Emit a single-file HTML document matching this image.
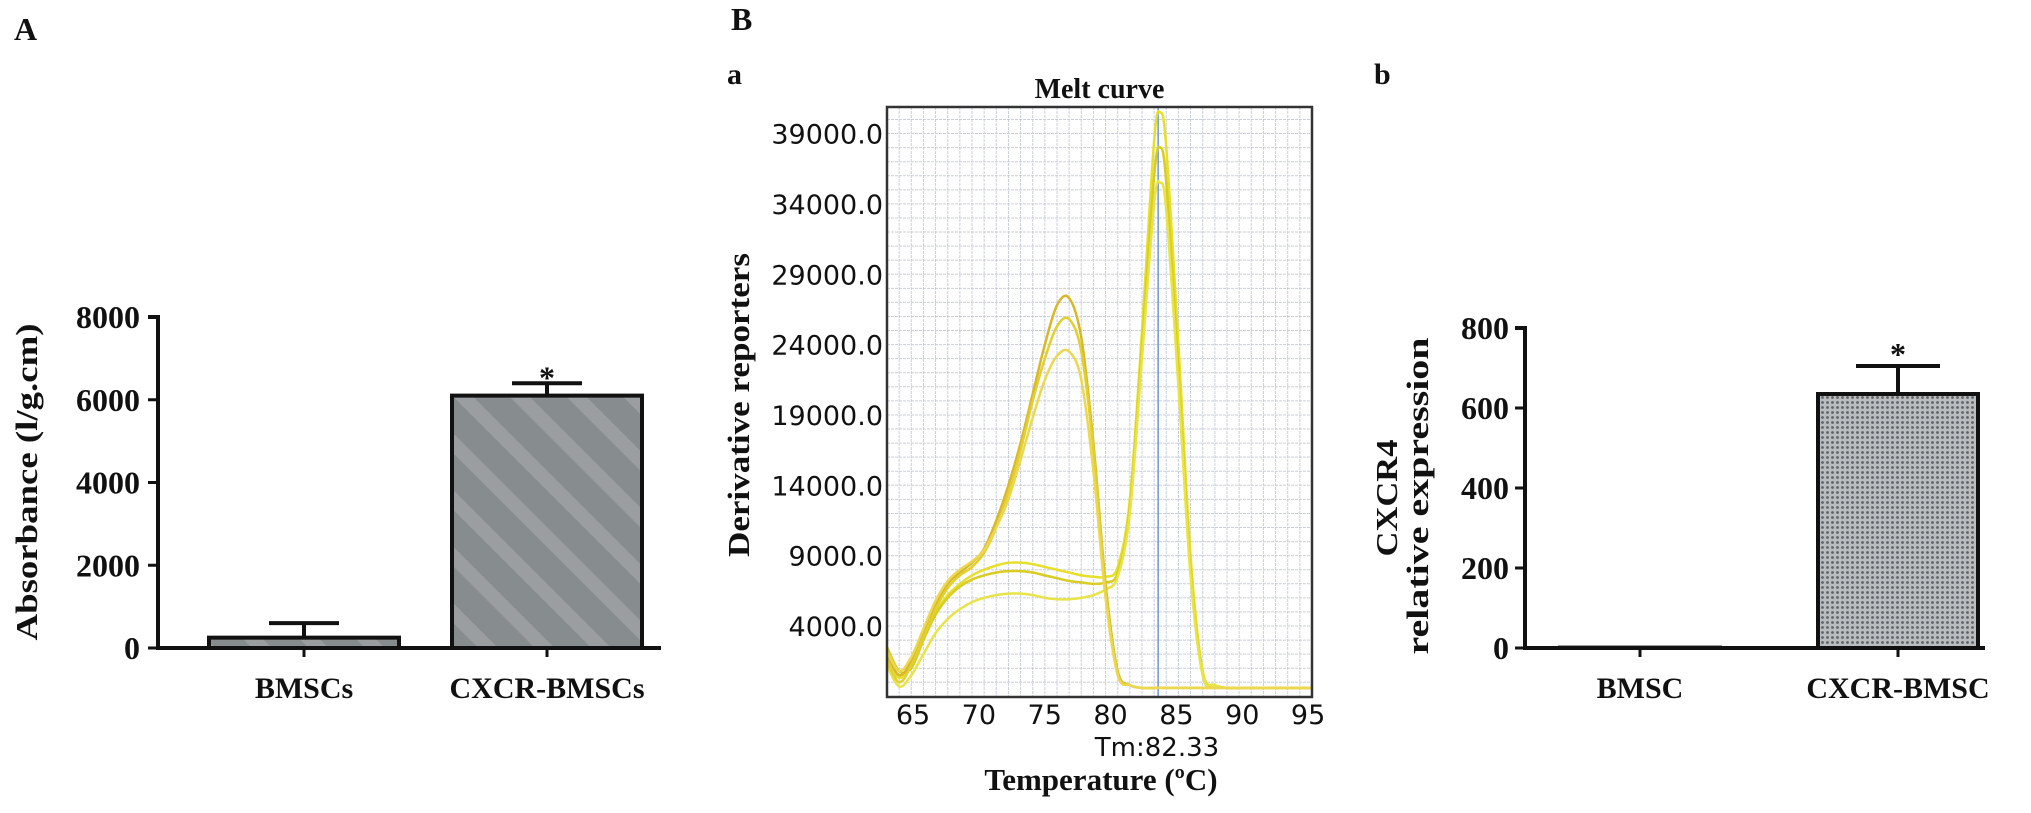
<!DOCTYPE html>
<html><head><meta charset="utf-8"><style>
html,body{margin:0;padding:0;background:#fff;}
svg{display:block;}
.b{font-family:"Liberation Serif",serif;font-weight:bold;fill:#111;}
.s{font-family:"DejaVu Sans","Liberation Sans",sans-serif;fill:#111;}
</style></head><body>
<svg id="fig" width="2031" height="813" viewBox="0 0 2031 813" xmlns="http://www.w3.org/2000/svg">
<defs>
<pattern id="stripe" patternUnits="userSpaceOnUse" width="40" height="40" patternTransform="rotate(-45)">
<rect width="40" height="40" fill="#878c8f"/><rect width="14" height="40" fill="#9a9ea1"/>
</pattern>
<pattern id="dots" patternUnits="userSpaceOnUse" width="5" height="5">
<rect width="5" height="5" fill="#b9bdbf"/><circle cx="2.5" cy="2.5" r="1.4" fill="#5d6366"/>
</pattern>
</defs>
<g id="pA"></g>
<g id="pMelt"></g>
<g id="pB"></g>
</svg>
<script>
// Panel A data
const aCats = ["BMSCs", "CXCR-BMSCs"];
const aVals = [250, 6100];
const aErr = [350, 300];
const aTicks = [0, 2000, 4000, 6000, 8000];
// Melt curve data
const meltTemps = [60,61,62,63,64,65,66,67,68,69,70,71,72,73,74,75,76,77,78,79,80,81,82,82.5,83,84,85,86,87,88,89,90,91,92,93,94,95];
const meltG2a = [1800,300,1500,3500,5000,6200,7000,7600,8000,8300,8500,8500,8400,8200,8000,7800,7600,7500,7500,8200,13000,25000,38500,40500,38000,24000,9000,800,-200,-400,-400,-400,-400,-400,-400,-400,-400];
const meltG2b = [2500,800,1000,3000,4800,6000,6800,7300,7600,7800,7900,7900,7800,7600,7400,7200,7100,7000,7100,7800,12500,24000,36000,38000,35500,22000,8000,500,-200,-400,-400,-400,-400,-400,-400,-400,-400];
const meltG2c = [1200,-300,500,2000,3500,4500,5200,5700,6000,6200,6300,6300,6200,6000,5900,5900,6000,6200,6600,7500,12000,23000,34000,35500,33500,21000,7500,500,-200,-400,-400,-400,-400,-400,-400,-400,-400];
const meltG1a = [2000,500,1500,3500,5500,7000,7800,8500,9500,11500,14000,17000,20500,24000,26800,27300,24500,17000,7000,800,-200,-400,-400,-400,-400,-400,-400,-400,-400,-400,-400,-400,-400,-400,-400,-400,-400];
const meltG1b = [1500,0,1200,3200,5200,6700,7600,8200,9200,11000,13500,16500,20000,23000,25300,25800,23500,16500,6500,600,-200,-400,-400,-400,-400,-400,-400,-400,-400,-400,-400,-400,-400,-400,-400,-400,-400];
const meltG1c = [2200,800,1800,3800,5800,7200,8000,8600,9400,11000,13000,15800,18800,21500,23200,23500,21500,15000,6000,500,-200,-400,-400,-400,-400,-400,-400,-400,-400,-400,-400,-400,-400,-400,-400,-400,-400];
const meltSeries = [meltG2a, meltG2b, meltG2c, meltG1a, meltG1b, meltG1c];
const meltColors = ["#e6e02a","#d9cc22","#e8e448","#d8b82a","#e2d030","#ecd850"];
const meltYTicks = [4000, 9000, 14000, 19000, 24000, 29000, 34000, 39000];
const meltXTicks = [65, 70, 75, 80, 85, 90, 95];
const meltTm = 82.33;
// Panel b data
const bCats = ["BMSC", "CXCR-BMSC"];
const bVals = [1, 635];
const bErr = [0, 70];
const bTicks = [0, 200, 400, 600, 800];

const NS = "http://www.w3.org/2000/svg";
function mk(parent, tag, attrs, text) {
  const e = document.createElementNS(NS, tag);
  for (const k in attrs) e.setAttribute(k, attrs[k]);
  if (text !== undefined) e.textContent = text;
  parent.appendChild(e);
  return e;
}

// ---------- Panel A ----------
(function(){
  const g = document.getElementById("pA");
  const ax = 158, y0 = 648, yTop = 317, xEnd = 661;
  const y = v => y0 - v * (y0 - yTop) / 8000;
  const centers = [304, 547], bw = 190;
  let t = mk(g, "text", {x: 14, y: 40, class: "b", "font-size": 32}, "A");
  
  
  aCats.forEach((c, i) => {
    const top = y(aVals[i]);
    const r = mk(g, "rect", {x: centers[i]-bw/2, y: top, width: bw, height: y0-top, fill: "url(#stripe)", stroke: "#111", "stroke-width": 4});
    
    
    const ye = y(aVals[i] + aErr[i]);
    const e = mk(g, "path", {d: `M${centers[i]} ${top} V${ye} M${centers[i]-35} ${ye} H${centers[i]+35}`, stroke: "#111", "stroke-width": 4, fill: "none"});
    
    
    const l = mk(g, "text", {x: centers[i], y: 698, class: "b", "font-size": 30, "text-anchor": "middle"}, c);
    
    
    mk(g, "line", {x1: centers[i], x2: centers[i], y1: y0, y2: y0+9, stroke: "#111", "stroke-width": 3});
  });
  const st = mk(g, "text", {x: centers[1], y: y(6800)+22, class: "b", "font-size": 32, "text-anchor": "middle"}, "*");
  
  
  const axl = mk(g, "path", {d: `M${ax-10} ${yTop} H${ax} V${y0} H${xEnd}`, stroke: "#111", "stroke-width": 4, fill: "none"});
  
  
  aTicks.forEach(v => {
    mk(g, "line", {x1: ax-10, x2: ax, y1: y(v), y2: y(v), stroke: "#111", "stroke-width": 3});
    const tl = mk(g, "text", {x: 140, y: y(v)+11, class: "b", "font-size": 32, "text-anchor": "end"}, String(v));
    
    
  });
  const yt = mk(g, "text", {x: 0, y: 0, class: "b", "font-size": 31, "text-anchor": "middle", textLength: 317, lengthAdjust: "spacingAndGlyphs", transform: "translate(37,482) rotate(-90)"}, "Absorbance (l/g.cm)");
  
  
})();

// ---------- Melt curve ----------
(function(){
  const g = document.getElementById("pMelt");
  const L = 887, R = 1312, T = 107, B = 697;
  const xmin = 60, xmax = 95;
  const x = t => L + (t - xmin) * (R - L) / (xmax - xmin);
  const labelX = v => 913 + (v - 65) * 13.17;
  const y = v => 626 - (v - 4000) * 14.07 / 1000;
  let t = mk(g, "text", {x: 731, y: 30, class: "b", "font-size": 32}, "B");
  
  
  t = mk(g, "text", {x: 727, y: 84, class: "b", "font-size": 30}, "a");
  
  
  t = mk(g, "text", {x: (L+R)/2, y: 98, class: "b", "font-size": 28, "text-anchor": "middle"}, "Melt curve");
  
  
  mk(g, "rect", {x: L, y: T, width: R-L, height: B-T, fill: "#fff"});
  const grid = mk(g, "g", {stroke: "#c9cfdc", "stroke-width": 1, "stroke-dasharray": "3 1"});
  
  
  for (let tt = xmin + 1; tt < xmax; tt++) mk(grid, "line", {x1: x(tt), x2: x(tt), y1: T, y2: B});
  for (let v = 0; y(v) > T; v += 1000) mk(grid, "line", {x1: L, x2: R, y1: y(v), y2: y(v)});
  const tm = mk(g, "line", {x1: x(meltTm), x2: x(meltTm), y1: T, y2: B, stroke: "#6f95d6", "stroke-width": 1.5});
  
  
  const clip = mk(g, "clipPath", {id: "meltClip"});
  mk(clip, "rect", {x: L, y: T-8, width: R-L, height: B-T+8});
  meltSeries.forEach((s, si) => {
    const pts = meltTemps.map((tt, i) => [x(tt), y(s[i])]);
    let d = `M${pts[0][0]} ${pts[0][1]}`;
    for (let i = 0; i < pts.length - 1; i++) {
      const p0 = pts[Math.max(0, i-1)], p1 = pts[i], p2 = pts[i+1], p3 = pts[Math.min(pts.length-1, i+2)];
      const c1x = p1[0] + (p2[0]-p0[0])/6, c1y = p1[1] + (p2[1]-p0[1])/6;
      const c2x = p2[0] - (p3[0]-p1[0])/6, c2y = p2[1] - (p3[1]-p1[1])/6;
      d += ` C${c1x} ${c1y} ${c2x} ${c2y} ${p2[0]} ${p2[1]}`;
    }
    const p = mk(g, "path", {d: d, fill: "none", stroke: meltColors[si], "stroke-width": 2.5, "clip-path": "url(#meltClip)"});
    
    
  });
  const fr = mk(g, "rect", {x: L, y: T, width: R-L, height: B-T, fill: "none", stroke: "#333", "stroke-width": 2.5});
  
  
  meltYTicks.forEach(v => {
    const tl = mk(g, "text", {x: 883, y: y(v)+10, class: "s", "font-size": 27, "text-anchor": "end"}, v.toFixed(1));
    
    
  });
  meltXTicks.forEach(v => {
    const tl = mk(g, "text", {x: labelX(v), y: 724, class: "s", "font-size": 27, "text-anchor": "middle"}, String(v));
    
    
  });
  t = mk(g, "text", {x: 1157, y: 756, class: "s", "font-size": 26, "text-anchor": "middle"}, "Tm:" + meltTm);
  
  
  t = mk(g, "text", {x: 1101, y: 790, class: "b", "font-size": 31, "text-anchor": "middle"}, "Temperature (ºC)");
  
  
  t = mk(g, "text", {x: 0, y: 0, class: "b", "font-size": 31, "text-anchor": "middle", textLength: 304, lengthAdjust: "spacingAndGlyphs", transform: "translate(749,405) rotate(-90)"}, "Derivative reporters");
  
  
})();

// ---------- Panel b ----------
(function(){
  const g = document.getElementById("pB");
  const ax = 1525, y0 = 648, yTop = 328, xEnd = 1985;
  const y = v => y0 - v * (y0 - yTop) / 800;
  const centers = [1640, 1898], bw = 160;
  let t = mk(g, "text", {x: 1374, y: 84, class: "b", "font-size": 30}, "b");
  
  
  bCats.forEach((c, i) => {
    const top = y(bVals[i]);
    const r = mk(g, "rect", {x: centers[i]-bw/2, y: top, width: bw, height: y0-top, fill: "url(#dots)", stroke: "#111", "stroke-width": 4});
    
    
    if (bErr[i] > 0) {
      const ye = y(bVals[i] + bErr[i]);
      const e = mk(g, "path", {d: `M${centers[i]} ${top} V${ye} M${centers[i]-42} ${ye} H${centers[i]+42}`, stroke: "#111", "stroke-width": 4, fill: "none"});
      
      
    }
    const l = mk(g, "text", {x: centers[i], y: 698, class: "b", "font-size": 30, "text-anchor": "middle"}, c);
    
    
    mk(g, "line", {x1: centers[i], x2: centers[i], y1: y0, y2: y0+9, stroke: "#111", "stroke-width": 3});
  });
  const st = mk(g, "text", {x: centers[1], y: y(762)+22, class: "b", "font-size": 32, "text-anchor": "middle"}, "*");
  
  
  const axl = mk(g, "path", {d: `M${ax-10} ${yTop} H${ax} V${y0} H${xEnd}`, stroke: "#111", "stroke-width": 4, fill: "none"});
  
  
  bTicks.forEach(v => {
    mk(g, "line", {x1: ax-10, x2: ax, y1: y(v), y2: y(v), stroke: "#111", "stroke-width": 3});
    const tl = mk(g, "text", {x: 1509, y: y(v)+11, class: "b", "font-size": 32, "text-anchor": "end"}, String(v));
    
    
  });
  t = mk(g, "text", {x: 0, y: 0, class: "b", "font-size": 31, "text-anchor": "middle", textLength: 117, lengthAdjust: "spacingAndGlyphs", transform: "translate(1397,498) rotate(-90)"}, "CXCR4");
  
  
  t = mk(g, "text", {x: 0, y: 0, class: "b", "font-size": 31, "text-anchor": "middle", textLength: 317, lengthAdjust: "spacingAndGlyphs", transform: "translate(1428,496) rotate(-90)"}, "relative expression");
  
  
})();
</script>
</body></html>
